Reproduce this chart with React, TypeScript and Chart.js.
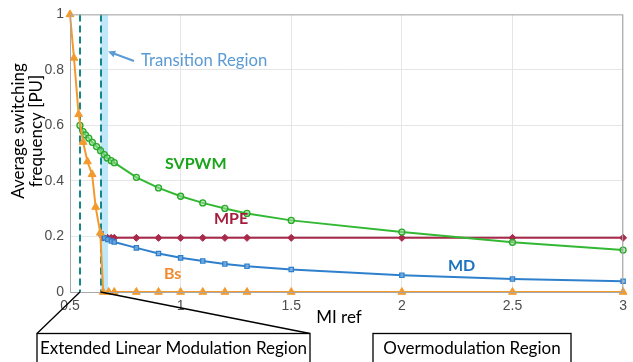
import React, { useEffect, useRef } from "react";
import { Chart, registerables } from "chart.js";
Chart.register(...registerables);

// ---- tick values ----
const xTicks = [0.5, 1, 1.5, 2, 2.5, 3];
const yTicks = [0, 0.2, 0.4, 0.6, 0.8, 1];

// ---- series: Bs ----
const bsX = [0.5, 0.518, 0.539, 0.559, 0.579, 0.6, 0.616, 0.637, 0.65, 0.675, 0.7, 0.8, 0.9, 1.0, 1.1, 1.2, 1.3, 1.5, 2.0, 2.5, 3.0];
const bsY = [1.0, 0.843, 0.64, 0.54, 0.47, 0.424, 0.306, 0.213, 0, 0, 0, 0, 0, 0, 0, 0, 0, 0, 0, 0, 0];

// ---- series: SVPWM ----
const svX = [0.545, 0.559, 0.57, 0.585, 0.601, 0.62, 0.638, 0.655, 0.668, 0.686, 0.7, 0.8, 0.9, 1.0, 1.1, 1.2, 1.3, 1.5, 2.0, 2.5, 3.0];
const svY = [0.6, 0.578, 0.566, 0.554, 0.539, 0.524, 0.509, 0.495, 0.483, 0.473, 0.466, 0.413, 0.375, 0.345, 0.321, 0.301, 0.283, 0.258, 0.216, 0.179, 0.151];

// ---- series: MD ----
const mdX = [0.64, 0.656, 0.671, 0.687, 0.7, 0.8, 0.9, 1.0, 1.1, 1.2, 1.3, 1.5, 2.0, 2.5, 3.0];
const mdY = [0.21, 0.195, 0.189, 0.184, 0.18, 0.159, 0.139, 0.123, 0.112, 0.101, 0.093, 0.081, 0.06, 0.047, 0.039];

// ---- series: MPE ----
const mpeX = [0.65, 0.67, 0.686, 0.7, 0.8, 0.9, 1.0, 1.1, 1.2, 1.3, 1.5, 2.0, 2.5, 3.0];
const mpeY = [0.196, 0.195, 0.195, 0.195, 0.195, 0.195, 0.195, 0.195, 0.195, 0.195, 0.195, 0.195, 0.195, 0.195];

// ---- region markers (MI ref values) ----
const extLinearLimit = 0.545;
const sixStepLimit = 0.638;
const transitionEnd = 0.672;

const pts = (xs: number[], ys: number[]) => xs.map((x, i) => ({ x, y: ys[i] }));

const LABEL_FONT = "Lato, 'Open Sans', sans-serif";
const TICK_FONT = "'Liberation Sans', Arial, sans-serif";

const overlay = {
  id: "overlay",
  beforeDatasetsDraw(chart: any) {
    const { ctx, chartArea: a, scales } = chart;
    const xs = scales.x;
    ctx.save();
    const x1 = xs.getPixelForValue(sixStepLimit);
    const x2 = xs.getPixelForValue(transitionEnd);
    ctx.fillStyle = "rgba(140,214,242,0.55)";
    ctx.fillRect(x1, a.top, x2 - x1, a.bottom - a.top);
    ctx.strokeStyle = "#14878A";
    ctx.lineWidth = 2;
    ctx.setLineDash([7, 4]);
    [extLinearLimit, sixStepLimit].forEach((v) => {
      const px = Math.round(xs.getPixelForValue(v));
      ctx.beginPath();
      ctx.moveTo(px, a.top);
      ctx.lineTo(px, a.bottom);
      ctx.stroke();
    });
    ctx.restore();
  },
  afterDraw(chart: any) {
    const { ctx, chartArea: a, scales } = chart;
    const xs = scales.x;
    const ys = scales.y;
    ctx.save();
    ctx.strokeStyle = "#A8A8A8";
    ctx.lineWidth = 1;
    ctx.strokeRect(a.left + 0.5, a.top + 0.5, a.right - a.left - 1, a.bottom - a.top);

    // y-axis title
    ctx.fillStyle = "#000";
    ctx.font = `17px ${LABEL_FONT}`;
    ctx.textBaseline = "middle";
    ctx.textAlign = "center";
    const drawRot = (t: string, cx: number, cy: number) => {
      ctx.save();
      ctx.translate(cx, cy);
      ctx.rotate(-Math.PI / 2);
      ctx.fillText(t, 0, 0);
      ctx.restore();
    };
    drawRot("Average switching", 18.5, 131);
    drawRot("frequency [PU]", 36.5, 131);

    // x-axis title
    ctx.textAlign = "center";
    ctx.font = `17px ${LABEL_FONT}`;
    ctx.fillText("MI ref", 339, 318);

    // series labels
    ctx.font = `bold 16px ${LABEL_FONT}`;
    ctx.textAlign = "left";
    ctx.fillStyle = "#1BA51B";
    ctx.fillText("SVPWM", 165, 164);
    ctx.fillStyle = "#A51D3D";
    ctx.fillText("MPE", 214, 219);
    ctx.fillStyle = "#F08A2C";
    ctx.fillText("Bs", 164, 274);
    ctx.fillStyle = "#1F72BE";
    ctx.fillText("MD", 448, 266);

    // transition region note
    ctx.font = `16.7px ${LABEL_FONT}`;
    ctx.fillStyle = "#5B9BD5";
    ctx.fillText("Transition Region", 141, 61);
    ctx.strokeStyle = "#5B9BD5";
    ctx.lineWidth = 2;
    ctx.beginPath();
    ctx.moveTo(134, 61);
    ctx.lineTo(111, 52.5);
    ctx.stroke();
    ctx.beginPath();
    const ang = Math.atan2(52.5 - 61, 111 - 134);
    const hx = 108, hy = 51.5;
    ctx.moveTo(hx, hy);
    ctx.lineTo(hx - 8 * Math.cos(ang - 0.45), hy - 8 * Math.sin(ang - 0.45));
    ctx.lineTo(hx - 8 * Math.cos(ang + 0.45), hy - 8 * Math.sin(ang + 0.45));
    ctx.closePath();
    ctx.fill();

    // region boxes
    const y0 = ys.getPixelForValue(0);
    ctx.strokeStyle = "#000";
    ctx.lineWidth = 1.3;
    ctx.beginPath();
    ctx.moveTo(37, 333.5);
    ctx.lineTo(xs.getPixelForValue(extLinearLimit), y0);
    ctx.moveTo(310, 333.5);
    ctx.lineTo(xs.getPixelForValue(sixStepLimit), y0);
    ctx.stroke();
    ctx.strokeRect(37, 333.5, 273, 40);
    ctx.strokeRect(373, 333.5, 198, 40);
    ctx.fillStyle = "#000";
    ctx.font = `17px ${LABEL_FONT}`;
    ctx.textAlign = "center";
    ctx.fillText("Extended Linear Modulation Region", 173.5, 348.5);
    ctx.fillText("Overmodulation Region", 472, 348.5);
    ctx.restore();
  },
};

export default function App() {
  const ref = useRef<HTMLCanvasElement | null>(null);
  useEffect(() => {
    document.body.style.margin = "0";
    const canvas = ref.current!;
    const chart = new Chart(canvas, {
      type: "line",
      data: {
        datasets: [
          {
            label: "Bs",
            data: pts(bsX, bsY),
            borderColor: "#F39A2E",
            backgroundColor: "#F39A2E",
            borderWidth: 2,
            pointStyle: "triangle",
            pointRadius: 4.5,
            pointBackgroundColor: "#F39A2E",
            pointBorderColor: "#F39A2E",
            pointBorderWidth: 1,
            clip: false,
          } as any,
          {
            label: "SVPWM",
            data: pts(svX, svY),
            borderColor: "#33B833",
            borderWidth: 2,
            pointStyle: "circle",
            pointRadius: 3,
            pointBackgroundColor: "rgba(150,220,150,0.6)",
            pointBorderColor: "#27A827",
            pointBorderWidth: 1.3,
            clip: false,
          } as any,
          {
            label: "MD",
            data: pts(mdX, mdY),
            borderColor: "#2F80CC",
            borderWidth: 2,
            pointStyle: "rect",
            pointRadius: 3,
            pointBackgroundColor: "rgba(130,180,230,0.7)",
            pointBorderColor: "#2F80CC",
            pointBorderWidth: 1.3,
            clip: false,
          } as any,
          {
            label: "MPE",
            data: pts(mpeX, mpeY),
            borderColor: "#A8294A",
            borderWidth: 2,
            pointStyle: "rectRot",
            pointRadius: 3.5,
            pointBackgroundColor: "#A8294A",
            pointBorderColor: "#A8294A",
            pointBorderWidth: 1,
            clip: false,
          } as any,
        ],
      },
      options: {
        responsive: false,
        animation: false,
        events: [],
        layout: { padding: { top: 13, right: 3, left: 0, bottom: 0 } },
        plugins: { legend: { display: false }, tooltip: { enabled: false } },
        scales: {
          x: {
            type: "linear",
            min: 0.5,
            max: 3,
            afterBuildTicks: (s: any) => {
              s.ticks = xTicks.map((v) => ({ value: v }));
            },
            afterFit: (s: any) => {
              s.height = 70;
            },
            grid: { color: "#E6E6E6", drawTicks: false },
            border: { display: false },
            ticks: {
              font: { family: TICK_FONT, size: 14 },
              color: "#4D4D4D",
              padding: 6,
              maxRotation: 0,
              callback: (v: any) => `${v}`,
            },
          },
          y: {
            type: "linear",
            min: 0,
            max: 1,
            afterBuildTicks: (s: any) => {
              s.ticks = yTicks.map((v) => ({ value: v }));
            },
            afterFit: (s: any) => {
              s.width = 70;
            },
            grid: { color: "#E6E6E6", drawTicks: false },
            border: { display: false },
            ticks: {
              font: { family: TICK_FONT, size: 14 },
              color: "#4D4D4D",
              padding: 6,
              callback: (v: any) => `${v}`,
            },
          },
        },
      },
      plugins: [overlay],
    } as any);
    return () => chart.destroy();
  }, []);
  return <canvas ref={ref} width={633} height={362} style={{ display: "block" }} />;
}
